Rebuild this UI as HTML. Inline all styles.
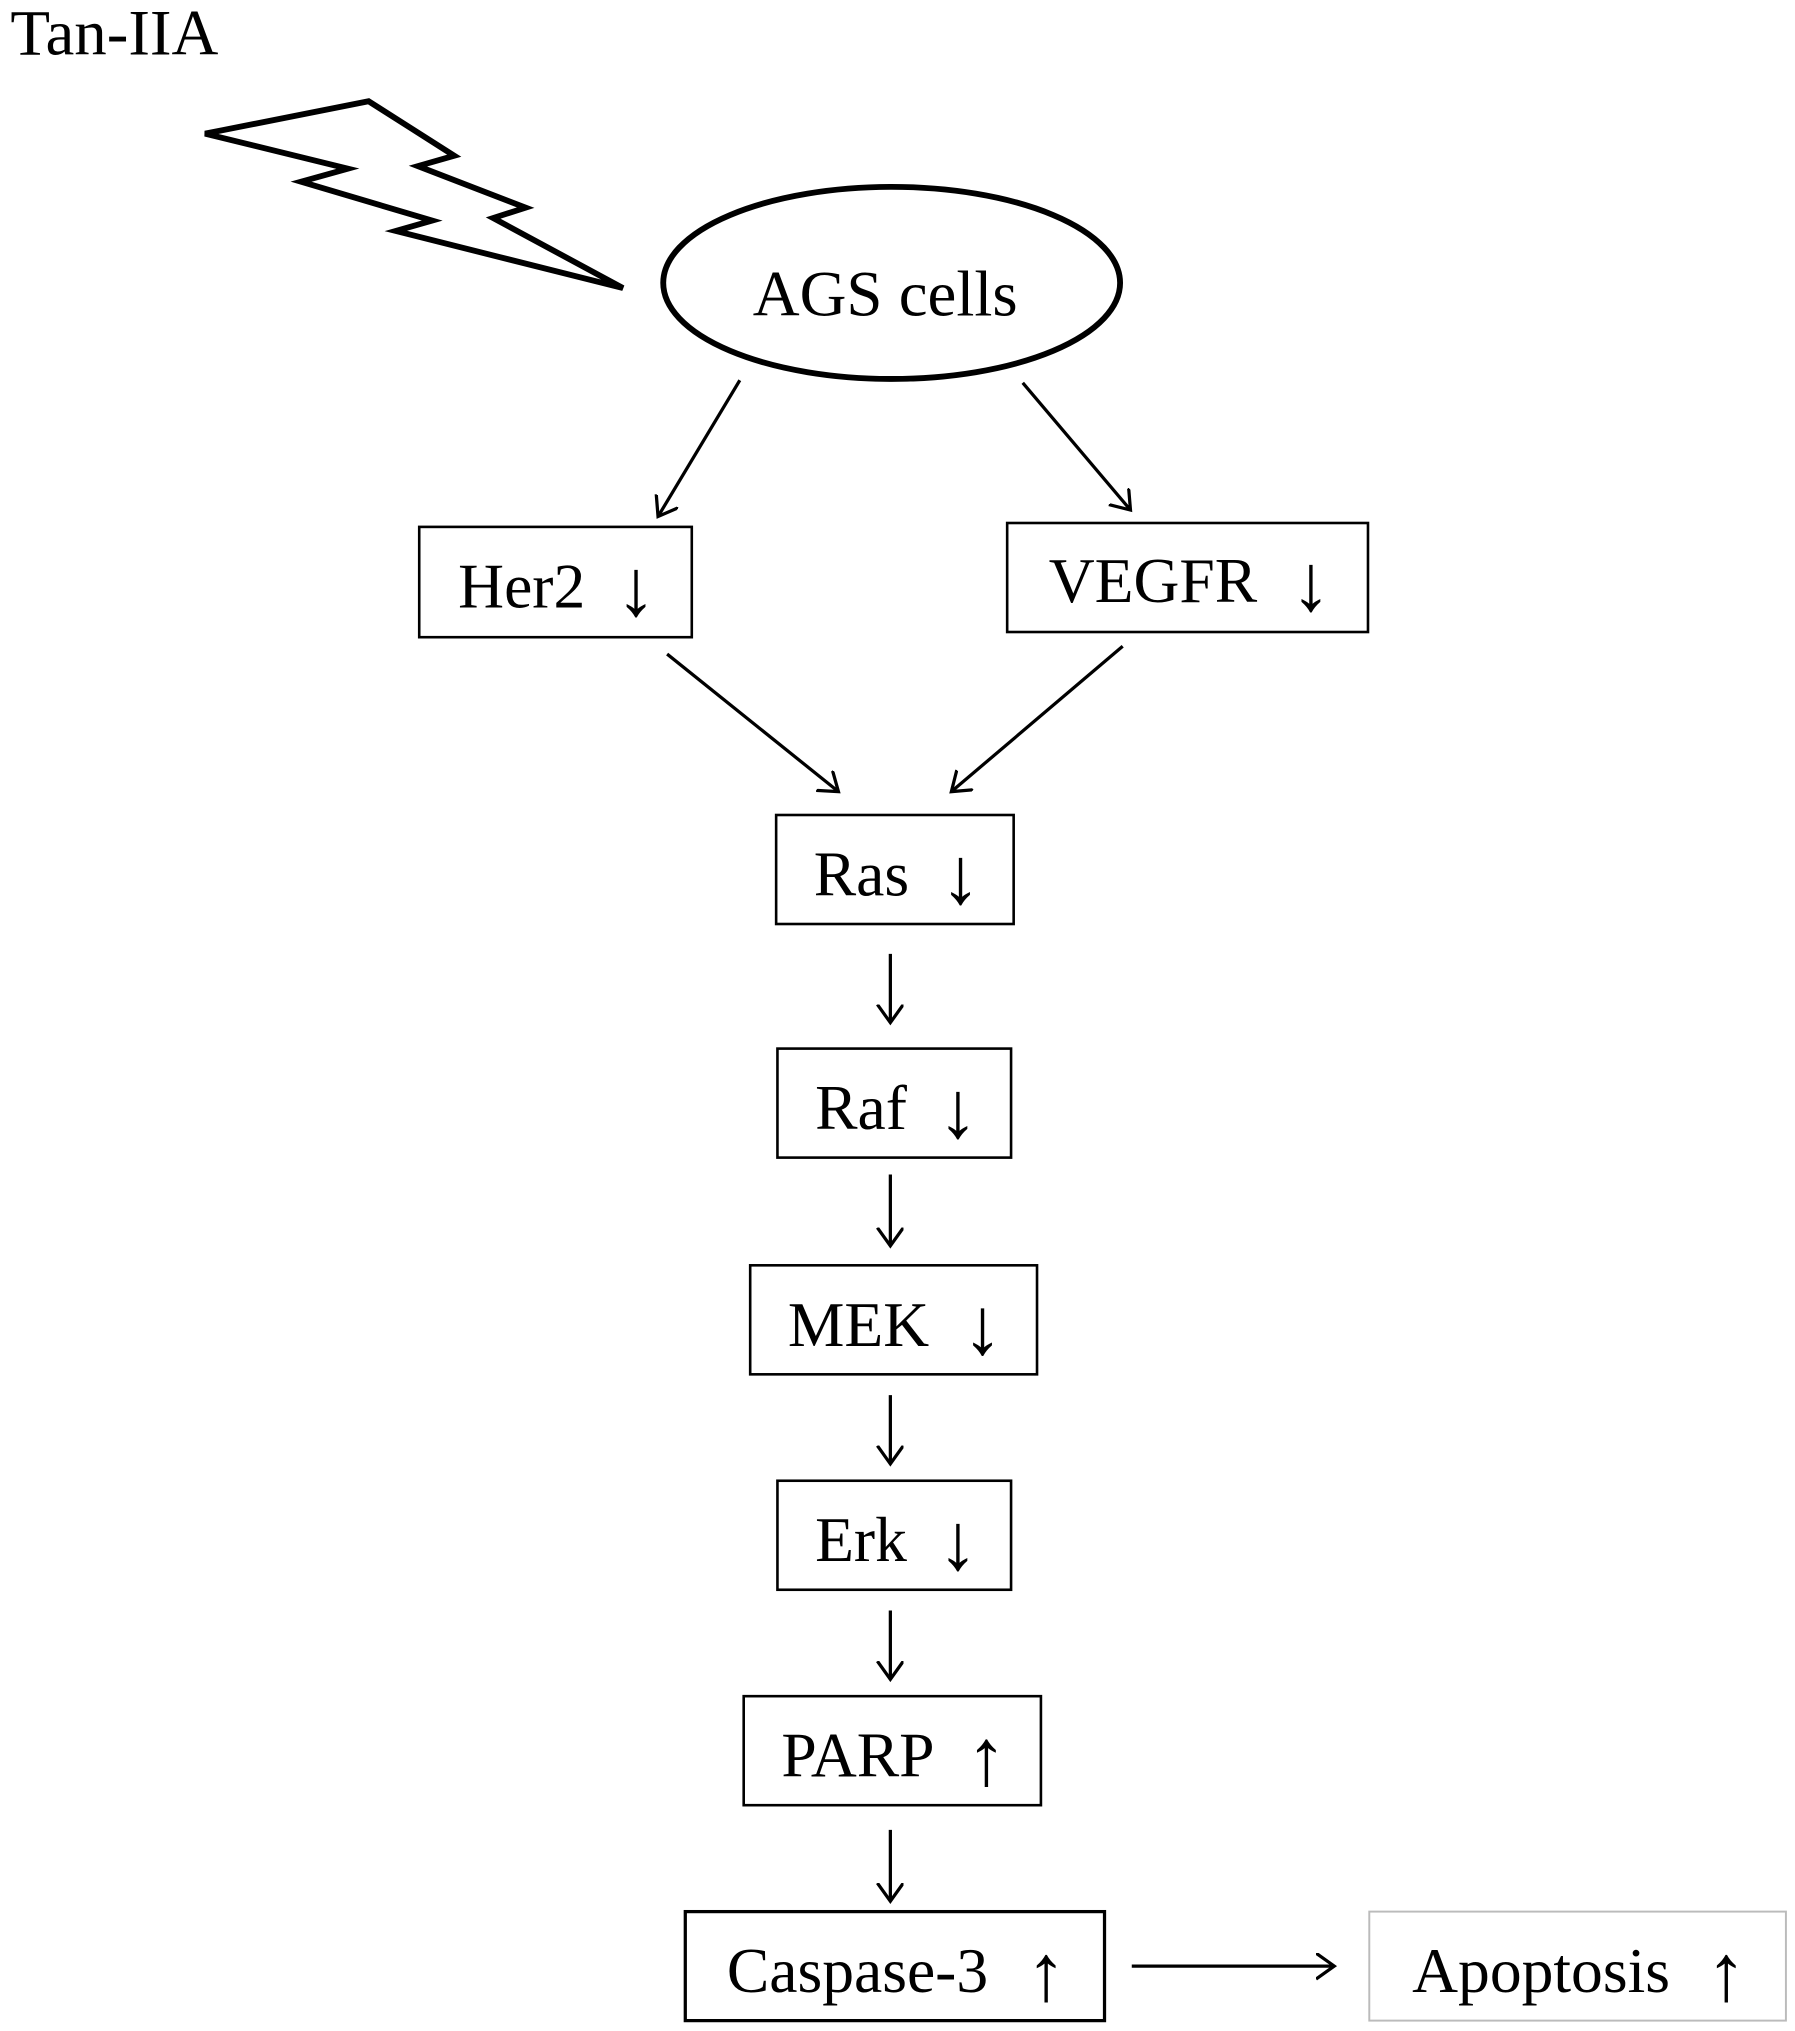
<!DOCTYPE html>
<html><head><meta charset="utf-8"><style>
html,body{margin:0;padding:0;background:#fff;}
svg{display:block;}
text{font-family:"Liberation Serif",serif;fill:#000;}
</style></head><body>
<svg width="1795" height="2031" viewBox="0 0 1383 1565" preserveAspectRatio="none" xmlns="http://www.w3.org/2000/svg">
<defs>
<marker id="a" markerWidth="30" markerHeight="30" refX="14" refY="10" orient="auto" markerUnits="userSpaceOnUse">
<path d="M0,0 L14,10 L0,20" fill="none" stroke="#000" stroke-width="2.5"/>
</marker>
</defs>
<text x="8" y="42" font-size="50">Tan-IIA</text>
<polygon points="158,103 284,78 350,120 322,128 405,160 380,168 480,222 305,178 333,170 232,140 268,130" fill="none" stroke="#000" stroke-width="4.5" stroke-linejoin="miter"/>
<ellipse cx="687" cy="218" rx="176" ry="74" fill="none" stroke="#000" stroke-width="4.5"/>
<text x="682" y="243" font-size="50" text-anchor="middle">AGS cells</text>
<g stroke="#000" stroke-width="2.5" fill="none" marker-end="url(#a)">
<line x1="570" y1="293" x2="507" y2="398"/>
<line x1="788" y1="295" x2="871" y2="393"/>
<line x1="514" y1="504" x2="646" y2="610"/>
<line x1="865" y1="498" x2="733" y2="610"/>
<line x1="686" y1="735" x2="686" y2="788"/>
<line x1="686" y1="905" x2="686" y2="960"/>
<line x1="686" y1="1075" x2="686" y2="1128"/>
<line x1="686" y1="1241" x2="686" y2="1294"/>
<line x1="686" y1="1410" x2="686" y2="1465"/>
<line x1="872" y1="1515" x2="1028" y2="1515"/>
</g>
<g fill="none" stroke="#000" stroke-width="2">
<rect x="323" y="406" width="210" height="85"/>
<rect x="776" y="403" width="278" height="84"/>
<rect x="598" y="628" width="183" height="84"/>
<rect x="599" y="808" width="180" height="84"/>
<rect x="578" y="975" width="221" height="84"/>
<rect x="599" y="1141" width="180" height="84"/>
<rect x="573" y="1307" width="229" height="84"/>
<rect x="528" y="1473" width="323" height="84" stroke-width="2.5"/>
<rect x="1055" y="1473" width="321" height="84" stroke="#bbb" stroke-width="1.5"/>
</g>
<g font-size="49">
<text x="353" y="468">Her2</text>
<text x="808" y="464">VEGFR</text>
<text x="627" y="690">Ras</text>
<text x="628" y="870">Raf</text>
<text x="607" y="1037">MEK</text>
<text x="628" y="1203">Erk</text>
<text x="602" y="1369">PARP</text>
<text x="560" y="1535">Caspase-3</text>
<text x="1088" y="1535">Apoptosis</text>
</g>
<g font-size="62" text-anchor="middle">
<text x="490" y="474">↓</text>
<text x="1010" y="470">↓</text>
<text x="740" y="696">↓</text>
<text x="738" y="876">↓</text>
<text x="757" y="1043">↓</text>
<text x="738" y="1209">↓</text>
<text x="760" y="1375">↑</text>
<text x="806" y="1541">↑</text>
<text x="1330" y="1541">↑</text>
</g>
</svg>
</body></html>
